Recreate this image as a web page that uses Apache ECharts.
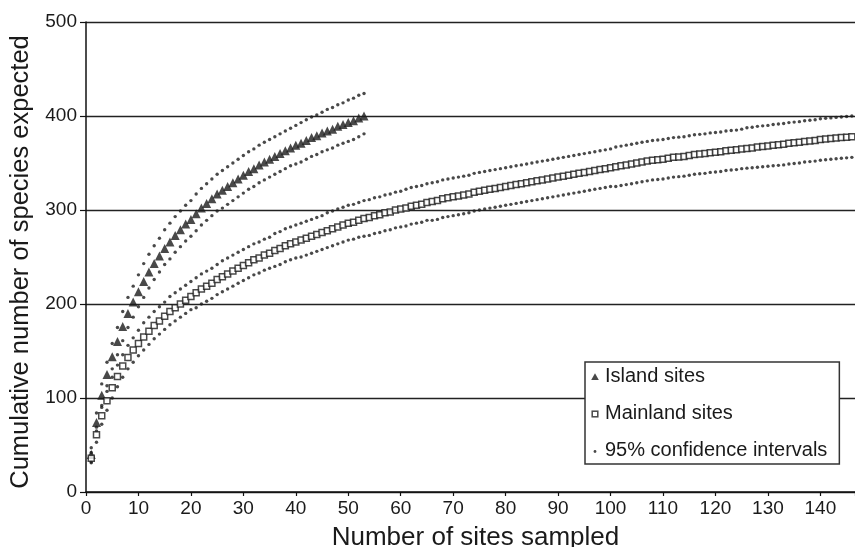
<!DOCTYPE html>
<html>
<head>
<meta charset="utf-8">
<script src="https://cdn.jsdelivr.net/npm/echarts@6/dist/echarts.min.js"></script>
<style>
html,body{margin:0;padding:0;background:#fff;}
#chart{width:855px;height:547px;}
</style>
</head>
<body>
<div id="chart"></div>
<script>
// ---- Data ----
const xTicks = [0,10,20,30,40,50,60,70,80,90,100,110,120,130,140];
const yTicks = [0,100,200,300,400,500];

const islandMean = [40,74,103,125,144,160,176,190,202,213,224,234,243,251,259,266,273,279,285,290,296,302,307,312,317,321,325,329,333,337,341,344,348,351,354,357,360,363,366,369,371,374,377,379,382,384,386,389,391,393,395,398,400];
const islandUpper = [47,84,115,138,158,175,192,207,219,231,243,253,262,270,279,286,293,299,305,310,317,323,328,333,338,342,346,350,354,358,362,365,369,372,375,378,381,384,387,390,393,396,399,401,404,407,409,412,414,417,419,422,424];
const islandLower = [32,65,92,113,131,146,161,175,186,197,207,217,226,234,242,248,255,261,267,272,278,284,289,294,299,302,306,310,314,318,322,325,329,332,335,338,341,344,347,349,351,354,357,359,362,364,366,369,371,373,375,378,381];

const mainlandMean = [36,61,81,97,111,123,134,143,151,158,165,171,177,182,187,192,196,200,204,208,212,216,219,222,226,229,232,235,238,241,244,247,249,252,254,257,259,262,264,266,268,270,272,274,276,278,280,282,284,286,287,289,291,292,294,295,297,298,300,301,302,304,305,306,308,309,310,312,313,314,315,316,317,319,320,321,322,323,324,325,326,327,328,329,330,331,332,333,334,335,336,337,338,339,340,341,342,343,344,345,346,347,348,349,350,351,352,353,353.5,354,355,356,356.5,357,358,359,359.5,360,361,361.5,362,363,363.5,364,365,365.5,366,367,367.5,368,369,369.5,370,371,371.5,372,373,373.5,374,375,375.5,376,376.5,377,377.5,378,378.5];
const mainlandUpper = [42,69,90,107,122,135,146,156,164,172,180,186,192,197,202,208,212,216,220,224,228,232,235,238,242,246,249,252,255,258,261,264,266,269,271,275,277,280,282,284,286,288,290,292,294,297,299,301,303,305,306,308,310,311,313,314,316,317,319,320,322,324,325,326,328,329,330,332,333,334,335,336,337,339,340,341,342,343,344,345,346,347,348,349,350,351,352,353,354,355,356,357,358,359,360,361,362,363,364,365,367,368,369,370,371,372,373,374,374.5,375,376,377,377.5,378,379,380,380.5,381,382,382.5,383,384,384.5,385,386,387.5,388,389,389.5,390,391,391.5,392,393,393.5,394,395,395.5,396,397,397.5,398,398.5,399,399.5,400,400.5];
const mainlandLower = [31,53,72,87,100,112,122,131,138,145,151,157,163,168,173,178,182,186,190,194,196,200,203,206,210,213,216,219,222,225,228,231,233,236,238,240,242,245,247,249,250,252,254,256,258,260,262,264,266,268,269,271,272,273,275,276,278,279,281,282,283,285,286,287,289,289,290,292,293,294,295,296,297,299,300,301,302,303,304,305,306,307,308,309,310,311,312,313,314,315,316,317,318,319,320,321,322,323,324,325,325,326,327,328,329,330,331,332,332.5,333,334,335,335.5,336,337,338,338.5,339,340,340.5,341,342,342.5,343,344,344.5,345,345.5,346,346.5,347,347.5,348,349,349.5,350,351,351.5,352,353,353.5,354,354.5,355,355.5,356,356.5];

const seriesNames = ['Island sites','Mainland sites','95% confidence intervals'];
const xAxisName = 'Number of sites sampled';
const yAxisName = 'Cumulative number of species expected';

// pair each value with its site number (1-based)
function pairs(arr){ return arr.map((v,i)=>[i+1, v]); }

const ink = '#1c1c1c';
const svgIcon = s => 'image://data:image/svg+xml;utf8,' + encodeURIComponent(s);
const triIcon = svgIcon('<svg xmlns="http://www.w3.org/2000/svg" width="10" height="10"><polygon points="5,2.3 8.8,9 1.2,9" fill="#1c1c1c"/></svg>');
const sqIcon = svgIcon('<svg xmlns="http://www.w3.org/2000/svg" width="10" height="10"><rect x="2.2" y="3.2" width="5.6" height="5.6" fill="#fff" stroke="#1c1c1c" stroke-width="1.5"/></svg>');
const dotIcon = svgIcon('<svg xmlns="http://www.w3.org/2000/svg" width="10" height="10"><circle cx="5" cy="6.5" r="1.4" fill="#1c1c1c"/></svg>');

const font = '"Liberation Sans", Arial, Helvetica, sans-serif';

const chart = echarts.init(document.getElementById('chart'), null, {renderer:'canvas'});
const dotSeries = (name, arr) => ({
  name: name, type: 'scatter', data: pairs(arr), symbol: 'circle', symbolSize: 3.4,
  itemStyle: {color: ink}, z: 2, silent: true
});
chart.setOption({
  animation: false,
  backgroundColor: '#fff',
  textStyle: {fontFamily: font},
  grid: {left: 86, top: 22, right: 0, bottom: 55, containLabel: false, outerBoundsMode: 'none'},
  xAxis: {
    type: 'value', min: 0, max: 146.6, interval: 10,
    name: xAxisName, nameLocation: 'middle', nameGap: 33,
    nameTextStyle: {fontSize: 26, color: '#1a1a1a', fontFamily: font, padding: [0, 0, 0, 10]},
    axisLine: {show: true, lineStyle: {color: '#111', width: 1.5}},
    axisTick: {show: true, length: 4, lineStyle: {color: '#111', width: 1.2}},
    axisLabel: {fontSize: 19, color: '#1a1a1a', margin: 7, fontFamily: font,
      formatter: v => (xTicks.indexOf(Math.round(v*1000)/1000) >= 0 ? String(v) : '')},
    splitLine: {show: false}
  },
  yAxis: {
    type: 'value', min: 0, max: 500, interval: 100,
    name: yAxisName, nameLocation: 'middle', nameGap: 52,
    nameTextStyle: {fontSize: 25.5, color: '#1a1a1a', fontFamily: font, padding: [0, 10, 0, 0]},
    axisLine: {show: true, lineStyle: {color: '#111', width: 1.5}},
    axisTick: {show: true, length: 6, lineStyle: {color: '#111', width: 1.2}},
    axisLabel: {fontSize: 19, color: '#1a1a1a', margin: 9, fontFamily: font,
      formatter: v => (yTicks.indexOf(v) >= 0 ? String(v) : '')},
    splitLine: {show: true, lineStyle: {color: '#222', width: 1.3}}
  },
  legend: {
    orient: 'vertical', left: 585, top: 362,
    backgroundColor: '#fff', borderColor: '#333', borderWidth: 1.5,
    padding: [4, 12, 4, 5], itemGap: 17, itemWidth: 10, itemHeight: 10,
    textStyle: {fontSize: 20, color: '#1a1a1a', fontFamily: font, lineHeight: 20},
    data: [
      {name: seriesNames[0], icon: triIcon},
      {name: seriesNames[1], icon: sqIcon},
      {name: seriesNames[2], icon: dotIcon}
    ],
    z: 10
  },
  series: [
    dotSeries(seriesNames[2], islandUpper),
    dotSeries(seriesNames[2], islandLower),
    dotSeries(seriesNames[2], mainlandUpper),
    dotSeries(seriesNames[2], mainlandLower),
    {
      name: seriesNames[0], type: 'scatter', data: pairs(islandMean), symbol: 'triangle', symbolSize: 9,
      itemStyle: {color: ink}, z: 3, silent: true
    },
    {
      name: seriesNames[1], type: 'scatter', data: pairs(mainlandMean), symbol: 'rect', symbolSize: 6,
      itemStyle: {color: '#fff', borderColor: ink, borderWidth: 1.5}, z: 3, silent: true
    }
  ]
});
</script>
</body>
</html>
